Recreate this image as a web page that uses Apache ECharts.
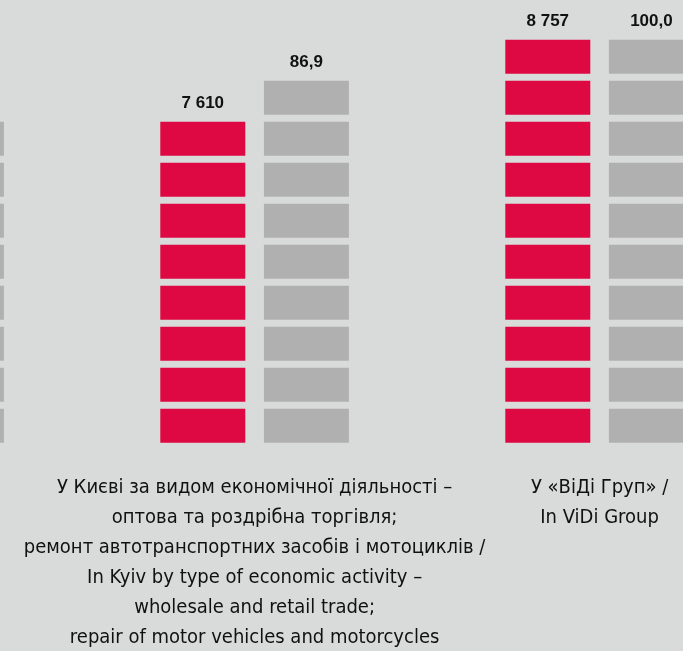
<!DOCTYPE html>
<html>
<head>
<meta charset="utf-8">
<script src="https://cdn.jsdelivr.net/npm/echarts@6/dist/echarts.min.js"></script>
<style>
  html, body { margin: 0; padding: 0; background: #d9dbda; }
  #chart { width: 683px; height: 651px; }
</style>
</head>
<body>
<div id="chart"></div>
<script>
// Categories (first group is cut off at the left edge of the picture)
const categories = [
  '',
  'У Києві за видом економічної діяльності –\nоптова та роздрібна торгівля;\nремонт автотранспортних засобів і мотоциклів /\nIn Kyiv by type of economic activity –\nwholesale and retail trade;\nrepair of motor vehicles and motorcycles',
  'У «ВіДі Груп» /\nIn ViDi Group'
];
// Values printed above the bars
const redValues  = [null, 7610, 8757];
const grayValues = [null, 86.9, 100.0];
// Number of blocks drawn in each bar
const redBlocks  = [null, 8, 10];
const grayBlocks = [8, 9, 10];

const FONT_CAT = '"DejaVu Sans Condensed", "Liberation Sans", sans-serif';
const FONT_VAL = '"Liberation Sans", Arial, sans-serif';

function fmtInt(v) {
  return String(v).replace(/\B(?=(\d{3})+(?!\d))/g, ' ');
}
function fmtDec(v) {
  return v.toFixed(1).replace('.', ',');
}

const chart = echarts.init(document.getElementById('chart'));
const labelBase = {
  show: true,
  position: 'top',
  distance: 6,
  fontFamily: FONT_VAL,
  fontWeight: 'bold',
  fontSize: 17,
  color: '#111'
};
chart.setOption({
  backgroundColor: '#d9dbda',
  animation: false,
  grid: { left: -262.9, right: -89.1, top: 36.2, bottom: 204.8, containLabel: false, outerBoundsMode: 'none' },
  xAxis: {
    type: 'category',
    data: categories,
    axisLine: { show: false },
    axisTick: { show: false },
    axisLabel: {
      interval: 0,
      margin: 27,
      fontFamily: FONT_CAT,
      fontSize: 20,
      lineHeight: 30,
      color: '#111',
      align: 'center',
      hideOverlap: false
    }
  },
  yAxis: {
    type: 'value',
    min: 0,
    max: 10,
    show: false,
    splitLine: { show: false }
  },
  series: [
    {
      type: 'pictorialBar',
      name: 'red',
      barWidth: 85,
      barGap: '21.9%',
      symbol: 'rect',
      symbolRepeat: true,
      symbolSize: [85, 34],
      symbolMargin: '3.5!',
      itemStyle: { color: '#de0842' },
      data: redBlocks,
      label: Object.assign({}, labelBase, {
        formatter: p => redValues[p.dataIndex] == null ? '' : fmtInt(redValues[p.dataIndex])
      })
    },
    {
      type: 'pictorialBar',
      name: 'gray',
      barWidth: 85,
      barGap: '21.9%',
      symbol: 'rect',
      symbolRepeat: true,
      symbolSize: [85, 34],
      symbolMargin: '3.5!',
      itemStyle: { color: '#b0b0b0' },
      data: grayBlocks,
      label: Object.assign({}, labelBase, {
        formatter: p => grayValues[p.dataIndex] == null ? '' : fmtDec(grayValues[p.dataIndex])
      })
    }
  ]
});
</script>
</body>
</html>
